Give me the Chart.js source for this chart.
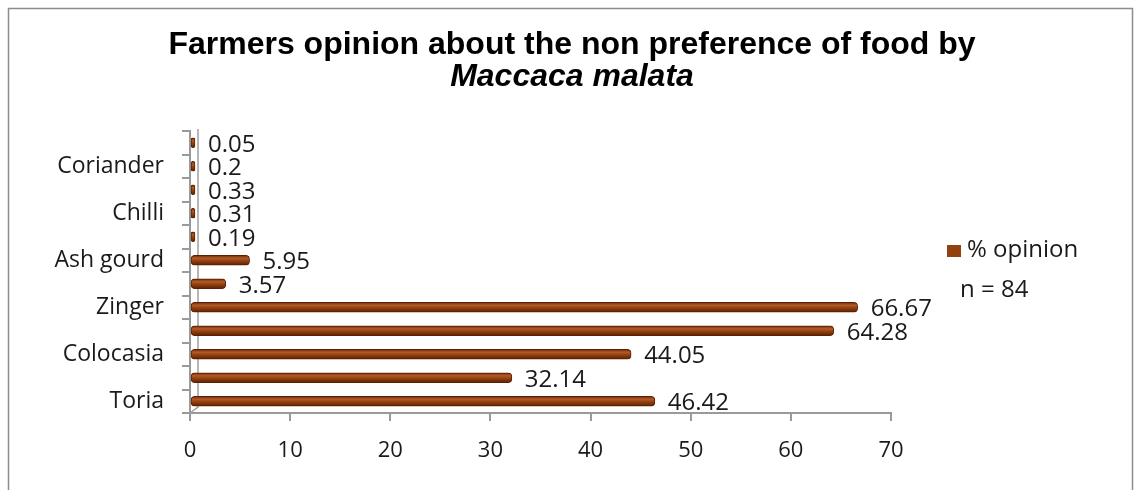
<!DOCTYPE html>
<html>
<head>
<meta charset="utf-8">
<script src="https://cdn.jsdelivr.net/npm/chart.js@4"></script>
<style>
  body { margin: 0; background: #fff; }
  #wrap { width: 1140px; height: 490px; }
</style>
</head>
<body>
<div id="wrap"><canvas id="bar-chart" width="1140" height="490"></canvas></div>
<script>
// crops, top to bottom as drawn (every other name is not shown in the source)
const crops = ["", "Coriander", "", "Chilli", "", "Ash gourd", "", "Zinger", "", "Colocasia", "", "Toria"];
const opinion = [0.05, 0.2, 0.33, 0.31, 0.19, 5.95, 3.57, 66.67, 64.28, 44.05, 32.14, 46.42];
const xTicks = [0, 10, 20, 30, 40, 50, 60, 70];
const seriesName = "% opinion";
const sampleNote = "n = 84";
const titleLines = ["Farmers opinion about the non preference of food by", "Maccaca malata"];

const brown = "#93400F";
const textFont = "24px 'Open Sans', sans-serif";

// frame, title (centred on the whole picture), wall line and bar shading
const framePlugin = {
  id: "frame",
  beforeDraw(chart) {
    const c = chart.ctx;
    c.save();
    c.fillStyle = "#fff";
    c.fillRect(0, 0, chart.width, chart.height);
    c.strokeStyle = "#8c8c8c";
    c.lineWidth = 1.5;
    c.strokeRect(8.5, 8.5, 1124, 500);
    c.fillStyle = "#000";
    c.textAlign = "center";
    c.textBaseline = "middle";
    c.font = "bold 32px 'Liberation Sans', Arial, sans-serif";
    c.fillText(titleLines[0], 572, 45);
    c.font = "italic bold 32px 'Liberation Sans', Arial, sans-serif";
    c.fillText(titleLines[1], 572, 77);
    c.restore();
  },
  beforeDatasetsDraw(chart) {
    const c = chart.ctx;
    const a = chart.chartArea;
    // inner edge of the 3D wall
    c.save();
    c.strokeStyle = "#a0a0a0";
    c.lineWidth = 1.5;
    c.beginPath();
    c.moveTo(a.left + 8, a.top - 2);
    c.lineTo(a.left + 8, a.bottom - 6);
    c.lineTo(a.left, a.bottom);
    c.stroke();
    c.restore();
    chart.getDatasetMeta(0).data.forEach((bar) => {
      const h = bar.height;
      const g = c.createLinearGradient(0, bar.y - h / 2, 0, bar.y + h / 2);
      g.addColorStop(0, "#6e2906");
      g.addColorStop(0.3, "#b35a2a");
      g.addColorStop(0.55, "#94420f");
      g.addColorStop(1, "#5a2003");
      bar.options = Object.assign({}, bar.options, { backgroundColor: g });
    });
  },
};

// value labels at bar ends + legend and the n note on the right
const labelsPlugin = {
  id: "valueLabels",
  afterDatasetsDraw(chart) {
    const c = chart.ctx;
    const meta = chart.getDatasetMeta(0);
    c.save();
    c.font = textFont;
    c.fillStyle = "#1a1a1a";
    c.textBaseline = "middle";
    c.textAlign = "left";
    meta.data.forEach((bar, i) => {
      c.fillText(String(opinion[i]), bar.x + 13, bar.y + 2);
    });
    // legend
    c.fillStyle = brown;
    c.fillRect(947, 245, 14, 12);
    c.fillStyle = "#1a1a1a";
    c.fillText(seriesName, 967, 250);
    c.fillText(sampleNote, 960, 290);
    c.restore();
  },
};

new Chart(document.getElementById("bar-chart"), {
  type: "bar",
  data: {
    labels: crops,
    datasets: [
      {
        label: seriesName,
        data: opinion,
        backgroundColor: brown,
        borderColor: "#5a2003",
        borderWidth: 1,
        borderRadius: 4,
        borderSkipped: false,
        barThickness: 10,
        minBarLength: 5,
      },
    ],
  },
  options: {
    indexAxis: "y",
    responsive: false,
    animation: false,
    layout: { padding: { left: 20, right: 249, top: 131, bottom: 0 } },
    plugins: {
      legend: { display: false },
      tooltip: { enabled: false },
    },
    scales: {
      x: {
        min: 0,
        max: 70,
        afterBuildTicks(scale) {
          scale.ticks = xTicks.map((v) => ({ value: v }));
        },
        afterFit(scale) {
          scale.height = 77;
        },
        grid: {
          drawOnChartArea: false,
          color: "#9a9a9a",
          tickLength: 8,
          lineWidth: 2,
        },
        border: { color: "#9a9a9a", width: 2 },
        ticks: { font: { family: "'Open Sans', sans-serif", size: 22 }, color: "#1a1a1a", padding: 17 },
      },
      y: {
        afterFit(scale) {
          scale.width = 170;
        },
        grid: {
          drawOnChartArea: false,
          offset: true,
          color: "#9a9a9a",
          tickLength: 8,
          lineWidth: 2,
        },
        border: { color: "#9a9a9a", width: 2 },
        ticks: { font: { family: "'Open Sans', sans-serif", size: 23 }, color: "#1a1a1a", padding: 18, autoSkip: false },
      },
    },
  },
  plugins: [framePlugin, labelsPlugin],
});
</script>
</body>
</html>
